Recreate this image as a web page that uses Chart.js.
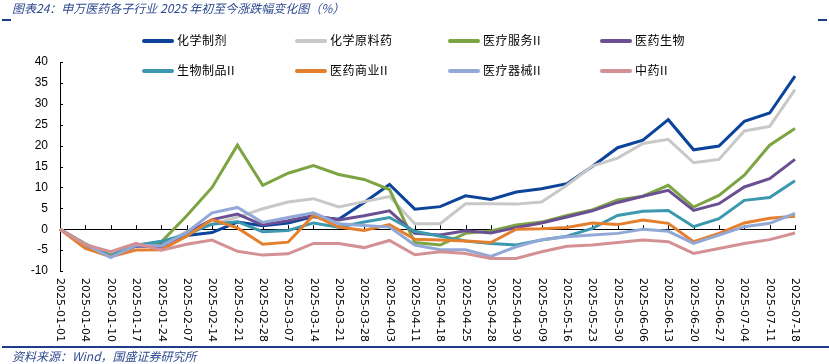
<!DOCTYPE html>
<html>
<head>
<meta charset="utf-8">
<script src="https://cdn.jsdelivr.net/npm/chart.js@4.4.1/dist/chart.umd.min.js"></script>
<style>
  body { margin: 0; background: #fff; }
  #wrap { position: relative; width: 829px; height: 364px; overflow: hidden; font-family: "Noto Sans CJK SC", sans-serif; }
  #c { position: absolute; left: 0; top: 0; }
  .title { position: absolute; left: 12px; top: -1px; font-size: 12px; font-style: italic; color: #2f4b8f; white-space: nowrap; }
  .mark { position: absolute; top: 19px; width: 9px; height: 1.5px; background: #1f3c88; }
  .source { position: absolute; left: 12px; top: 347px; font-size: 12px; font-style: italic; color: #2f4b8f; white-space: nowrap; }
  .rule { position: absolute; left: 2px; right: 0; top: 346px; height: 1.5px; background: #1f3c88; }
  .item { position: absolute; height: 16px; line-height: 16px; font-size: 12px; color: #000; white-space: nowrap; letter-spacing: 0.5px; }
  .sw { display: inline-block; width: 32px; height: 4px; border-radius: 2px; vertical-align: middle; margin-right: 3px; position: relative; top: -1px; }
</style>
</head>
<body>
<div id="wrap">
  <canvas id="c" width="829" height="364"></canvas>
  <div class="title">图表24：申万医药各子行业 2025 年初至今涨跌幅变化图（%）</div>
  <div class="mark" style="left:2px"></div>
  <div class="mark" style="left:818px"></div>
  <div id="legend"></div>
  <div class="rule"></div>
  <div class="source">资料来源：Wind，国盛证券研究所</div>
</div>
<script>
'use strict'

// categories
const dates = ['2025-01-01','2025-01-04','2025-01-10','2025-01-17','2025-01-24','2025-02-07','2025-02-14','2025-02-21','2025-02-28','2025-03-07',
  '2025-03-14','2025-03-21','2025-03-28','2025-04-03','2025-04-11','2025-04-18','2025-04-25','2025-04-28','2025-04-30','2025-05-09',
  '2025-05-16','2025-05-23','2025-05-30','2025-06-06','2025-06-13','2025-06-20','2025-06-27','2025-07-04','2025-07-11','2025-07-18'];

// series values (%)
const chemPrep   = [0, -3.6, -6.5, -4.0, -3.5, -1.5, -0.8, 1.7, 0.8, 1.5, 3.0, 2.4, 6.4, 10.7, 4.8, 5.4, 8.0, 7.1, 8.9, 9.7, 10.9, 15.0, 19.5, 21.3, 26.2, 19.0, 19.9, 25.8, 27.8, 36.6];
const chemRaw    = [0, -3.5, -6.3, -4.0, -4.0, -0.5, 1.2, 2.9, 4.9, 6.5, 7.3, 5.3, 6.6, 7.8, 1.3, 1.3, 6.1, 6.1, 6.0, 6.5, 10.5, 15.1, 17.0, 20.5, 21.5, 15.9, 16.7, 23.5, 24.6, 33.4];
const medService = [0, -3.5, -6.2, -4.0, -3.0, 3.2, 10.0, 20.1, 10.5, 13.4, 15.2, 13.1, 11.9, 9.5, -3.2, -3.8, -1.0, -0.4, 1.0, 1.7, 3.3, 4.6, 7.0, 7.9, 10.5, 5.3, 8.1, 12.9, 20.1, 24.1];
const pharmaBio  = [0, -3.8, -6.5, -4.0, -4.2, -0.9, 2.3, 3.6, 1.0, 2.0, 3.3, 2.2, 3.2, 4.4, -1.0, -1.4, -0.4, -0.9, 0.4, 1.5, 2.9, 4.4, 6.4, 7.9, 9.3, 4.5, 6.1, 10.1, 12.1, 16.7];
const bioProduct = [0, -3.8, -6.3, -3.8, -2.9, -1.2, 1.2, 1.8, -0.6, -0.3, 1.5, 0.5, 1.7, 2.8, -0.5, -1.7, -2.8, -3.4, -3.8, -2.6, -1.7, 0.2, 3.3, 4.3, 4.5, 0.6, 2.5, 6.9, 7.6, 11.6];
const pharmaBiz  = [0, -4.6, -6.6, -5.0, -4.9, -1.7, 2.3, 0.3, -3.6, -3.1, 3.3, 0.5, -0.3, 1.1, -2.4, -2.6, -2.8, -3.2, 0.0, 0.1, 0.4, 1.5, 1.1, 2.2, 1.4, -3.0, -1.0, 1.5, 2.6, 3.1];
const medDevice  = [0, -3.6, -6.8, -3.8, -4.0, -0.8, 3.9, 5.2, 1.6, 2.8, 3.9, 1.3, 0.9, 0.5, -3.8, -4.9, -4.9, -6.5, -4.2, -2.5, -1.8, -1.4, -1.0, 0.0, -0.5, -3.4, -1.4, 0.6, 1.4, 3.8];
const tcm        = [0, -3.7, -5.4, -3.4, -5.0, -3.6, -2.6, -5.3, -6.2, -5.9, -3.4, -3.4, -4.4, -2.7, -6.1, -5.4, -5.8, -7.0, -7.0, -5.4, -4.1, -3.8, -3.2, -2.6, -3.0, -5.8, -4.6, -3.4, -2.5, -0.9];

const seriesNames = ['化学制剂', '化学原料药', '医疗服务II', '医药生物', '生物制品II', '医药商业II', '医疗器械II', '中药II'];
const seriesData = [chemPrep, chemRaw, medService, pharmaBio, bioProduct, pharmaBiz, medDevice, tcm];
const seriesColors = ['#0b449a', '#c8c8c8', '#7da442', '#6b4f93', '#3c98af', '#e47f2e', '#92a9d8', '#d49193'];

// y ticks
const yMin = -10;
const yMax = 40;
const yStep = 5;

// legend (html)
const legendBox = document.getElementById('legend');
const legendLeft = [142, 295, 448, 600];
const legendTop = [32, 62];
seriesNames.forEach(function(name, i){
  const item = document.createElement('div');
  item.className = 'item';
  item.style.left = legendLeft[i % 4] + 'px';
  item.style.top = legendTop[Math.floor(i / 4)] + 'px';
  item.innerHTML = '<span class="sw" style="background:' + seriesColors[i] + '"></span>' + name;
  legendBox.appendChild(item);
});

// tick marks inside the axes + rotated date labels
const axisDecor = {
  id: 'axisDecor',
  beforeDatasetsDraw(chart){
    const ctx = chart.ctx;
    const x = chart.scales.x;
    const y = chart.scales.y;
    const y0 = y.getPixelForValue(0);
    ctx.save();
    ctx.strokeStyle = '#000';
    ctx.lineWidth = 1;
    ctx.beginPath();
    x.ticks.forEach(function(t, i){
      const px = Math.round(x.getPixelForTick(i)) + 0.5;
      ctx.moveTo(px, y0);
      ctx.lineTo(px, y0 - 4);
    });
    y.ticks.forEach(function(t, i){
      const py = Math.round(y.getPixelForTick(i)) + 0.5;
      ctx.moveTo(chart.chartArea.left, py);
      ctx.lineTo(chart.chartArea.left + 3, py);
    });
    ctx.stroke();
    ctx.restore();
  },
  afterDraw(chart){
    const ctx = chart.ctx;
    const x = chart.scales.x;
    ctx.save();
    ctx.fillStyle = '#000';
    ctx.font = '11px "DejaVu Sans"';
    ctx.textAlign = 'left';
    ctx.textBaseline = 'middle';
    dates.forEach(function(d, i){
      ctx.save();
      ctx.translate(x.getPixelForTick(i), chart.chartArea.bottom + 7);
      ctx.rotate(Math.PI / 2);
      ctx.fillText(d, 0, 0);
      ctx.restore();
    });
    ctx.restore();
  }
};

const datasets = seriesNames.map(function(name, i){
  return {
    label: name,
    data: seriesData[i],
    borderColor: seriesColors[i],
    backgroundColor: seriesColors[i],
    borderWidth: 3,
    pointRadius: 0,
    tension: 0,
    fill: false,
    order: seriesNames.length - i
  };
});

new Chart(document.getElementById('c'), {
  type: 'line',
  data: { labels: dates, datasets: datasets },
  plugins: [axisDecor],
  options: {
    responsive: false,
    animation: false,
    devicePixelRatio: 1,
    layout: { padding: { left: 0, top: 62, right: 34, bottom: 93 } },
    plugins: { legend: { display: false }, tooltip: { enabled: false } },
    scales: {
      x: {
        type: 'category',
        offset: false,
        position: { y: 0 },
        grid: { display: false, drawTicks: false },
        ticks: { display: false },
        border: { display: true, color: '#000', width: 1 }
      },
      y: {
        min: yMin,
        max: yMax,
        afterFit: function(scale){ scale.width = 60; },
        grid: { display: false, drawTicks: false },
        border: { display: true, color: '#000', width: 1 },
        ticks: {
          stepSize: yStep,
          padding: 12,
          color: '#000',
          font: { family: 'Liberation Sans', size: 12 }
        }
      }
    }
  }
});
</script>
</body>
</html>
